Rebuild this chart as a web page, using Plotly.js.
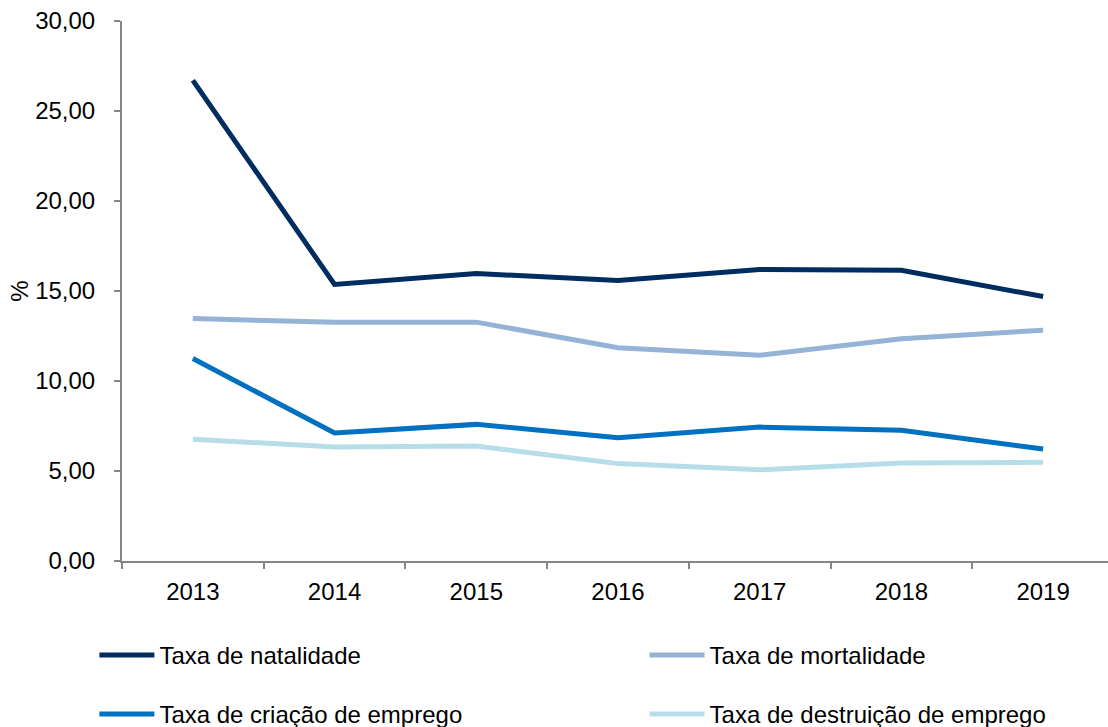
<!DOCTYPE html>
<html>
<head>
<meta charset="utf-8">
<script src="https://cdn.plot.ly/plotly-3.0.1.min.js"></script>
<style>html,body{margin:0;padding:0;background:#fff;}#chart{width:1108px;height:727px;}</style>
</head>
<body>
<div id="chart"></div>
<script>
const years = ['2013', '2014', '2015', '2016', '2017', '2018', '2019'];
const natalidade = [26.70, 15.36, 15.97, 15.59, 16.19, 16.15, 14.69];
const mortalidade = [13.47, 13.26, 13.27, 11.85, 11.43, 12.35, 12.82];
const criacao = [11.25, 7.11, 7.59, 6.85, 7.44, 7.26, 6.22];
const destruicao = [6.77, 6.33, 6.39, 5.41, 5.07, 5.44, 5.48];
const seriesNames = ['Taxa de natalidade', 'Taxa de mortalidade', 'Taxa de criação de emprego', 'Taxa de destruição de emprego'];
const yTitle = '%';

const colors = ['#002D5F', '#95B3D7', '#0070C0', '#B7DEE8'];
const legendIds = ['legend', 'legend2', 'legend', 'legend2'];
const values = [natalidade, mortalidade, criacao, destruicao];

const traces = values.map((v, i) => ({
  x: years,
  y: v,
  type: 'scatter',
  mode: 'lines',
  name: seriesNames[i],
  legend: legendIds[i],
  legendgroup: 'g' + i,
  line: {color: colors[i], width: 5},
  cliponaxis: false,
  hoverinfo: 'skip'
}));

const font = {family: 'Liberation Sans, Arial, sans-serif', size: 24, color: '#000'};
const legendCommon = {
  orientation: 'v',
  xanchor: 'left',
  yanchor: 'top',
  yref: 'paper',
  bgcolor: 'rgba(0,0,0,0)',
  font: font,
  itemwidth: 55,
  tracegroupgap: 25,
  itemclick: false,
  itemdoubleclick: false
};

const layout = {
  width: 1108,
  height: 727,
  margin: {l: 122, r: 0, t: 21, b: 166, autoexpand: false},
  paper_bgcolor: '#fff',
  plot_bgcolor: '#fff',
  font: font,
  separators: ',.',
  showlegend: true,
  xaxis: {
    type: 'category',
    range: [-0.5, 6.458],
    showgrid: false,
    zeroline: false,
    showline: true,
    linecolor: '#868686',
    linewidth: 2,
    ticks: 'outside',
    tickson: 'boundaries',
    ticklen: 6,
    tickwidth: 2,
    tickcolor: '#868686',
    tickfont: font,
    ticklabelstandoff: 8
  },
  yaxis: {
    range: [0, 30],
    dtick: 5,
    tick0: 0,
    tickformat: '.2f',
    showgrid: false,
    zeroline: false,
    showline: true,
    linecolor: '#868686',
    linewidth: 2,
    ticks: 'outside',
    ticklen: 6,
    tickwidth: 2,
    tickcolor: '#868686',
    tickfont: font,
    ticklabelstandoff: 14,
    title: {text: yTitle, font: font, standoff: 0}
  },
  legend: Object.assign({}, legendCommon, {x: -0.028, y: -0.133}),
  legend2: Object.assign({}, legendCommon, {x: 0.53, y: -0.133})
};

Plotly.newPlot('chart', traces, layout, {staticPlot: true, displayModeBar: false});
</script>
</body>
</html>
